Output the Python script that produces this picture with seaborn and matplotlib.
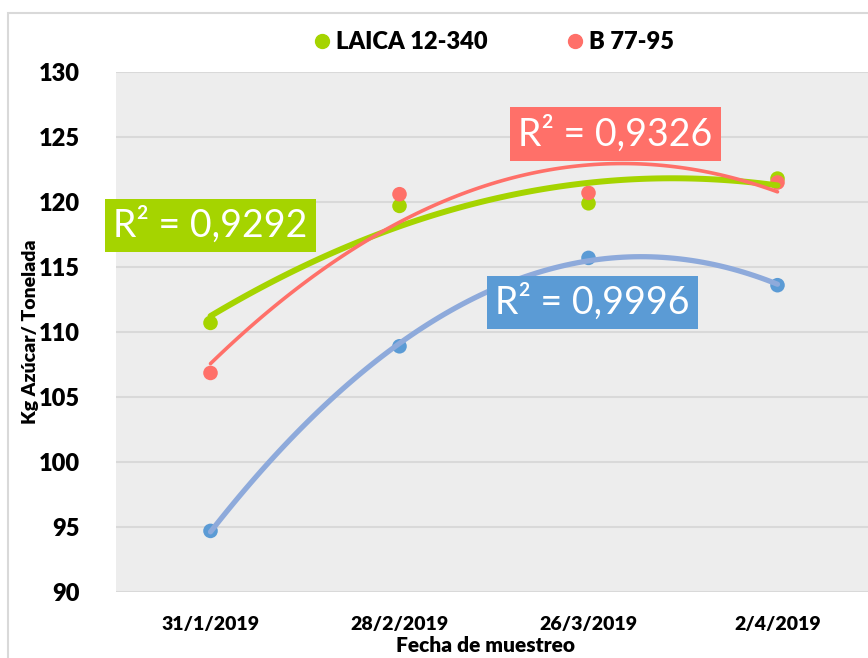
import matplotlib
matplotlib.use("Agg")
import matplotlib.pyplot as plt
from matplotlib.lines import Line2D
from matplotlib.patches import Rectangle
import seaborn as sns
import numpy as np
import pandas as pd

fechas = ["31/1/2019", "28/2/2019", "26/3/2019", "2/4/2019"]
laica = [110.7, 119.7, 119.9, 121.8]
b7795 = [106.85, 120.6, 120.7, 121.5]
tercera = [94.7, 108.9, 115.7, 113.6]
r2_labels = ["R² = 0,9292", "R² = 0,9326", "R² = 0,9996"]

sns.set_theme(style="white")
plt.rcParams['font.family'] = ['Lato', 'DejaVu Sans']
plt.rcParams['text.color'] = 'black'
plt.rcParams['axes.labelcolor'] = 'black'
plt.rcParams['xtick.color'] = 'black'
plt.rcParams['ytick.color'] = 'black'

fig = plt.figure(figsize=(8.68, 6.58), dpi=100)
ax = fig.add_axes([116/868, 1-592/658, 1-116/868, (592-72)/658])
ax.set_facecolor("#ededed")

x = np.arange(len(fechas))
df = pd.DataFrame({"x": x, "laica": laica, "b": b7795, "t": tercera})

col_g, col_r = "#a5d400", "#ff7069"
col_bm, col_bl = "#5b9bd5", "#8eaadb"

for ycol, mc in [("t", col_bm), ("laica", col_g), ("b", col_r)]:
    sns.scatterplot(data=df, x="x", y=ycol, ax=ax, color=mc, s=110,
                    edgecolor="none", zorder=3, legend=False)

sns.regplot(data=df, x="x", y="t", order=2, ci=None, scatter=False, ax=ax,
            line_kws=dict(color=col_bl, lw=3.8, zorder=4, solid_capstyle="round"))
sns.regplot(data=df, x="x", y="laica", order=2, ci=None, scatter=False, ax=ax,
            line_kws=dict(color=col_g, lw=4.3, zorder=4, solid_capstyle="round"))
sns.regplot(data=df, x="x", y="b", order=2, ci=None, scatter=False, ax=ax,
            line_kws=dict(color=col_r, lw=2.6, zorder=5, solid_capstyle="round"))

ax.set_xlim(-0.5, 3.5 - 4/189)
ax.set_ylim(90, 130)
ax.set_yticks(range(90, 131, 5))
ax.set_xticks(x)
ax.set_xticklabels(fechas)
ax.yaxis.grid(True, color="#d9d9d9", lw=1.5)
ax.xaxis.grid(False)
ax.set_axisbelow(True)
for s in ax.spines.values():
    s.set_visible(False)
ax.tick_params(axis="y", labelsize=17, pad=26, length=0)
ax.tick_params(axis="x", labelsize=14, pad=17, length=0)
for lab in ax.get_yticklabels() + ax.get_xticklabels():
    lab.set_fontweight("heavy")

ax.set_xlabel("Fecha de muestreo", fontsize=15, fontweight="heavy")
ax.set_ylabel("Kg Azúcar/ Tonelada", fontsize=14, fontweight="heavy")
ax.xaxis.label.set_va("center")
ax.yaxis.label.set_va("center")
ax.yaxis.set_label_coords(-(116-31)/752, 0.5)
ax.xaxis.set_label_coords((485-116)/752, -(646-592)/520)

boxes = [(0.0, 118.2, col_g), (2.143, 125.23, col_r), (2.021, 112.27, col_bm)]
for lab, (bx, by, bc) in zip(r2_labels, boxes):
    ax.text(bx, by, lab, ha="center", va="center", fontsize=27, color="white",
            zorder=6, clip_on=False,
            bbox=dict(boxstyle="square,pad=0.22", fc=bc, ec="none"))

handles = [Line2D([], [], marker="o", ls="none", color=col_g, markersize=10),
           Line2D([], [], marker="o", ls="none", color=col_r, markersize=10)]
fig.legend(handles, ["LAICA 12-340", "B 77-95"], loc="center",
           bbox_to_anchor=(492/868, 1-42/658), ncol=2, frameon=False,
           prop=dict(size=17, weight="heavy"), handletextpad=0.1,
           columnspacing=3.2, handlelength=1.0)

fig.patches.append(Rectangle((8/868, -0.1), 1.2, 1-13/658+0.1,
                             transform=fig.transFigure, fill=False,
                             ec="#d9d9d9", lw=1.5))

fig.savefig("out.png", dpi=100)
